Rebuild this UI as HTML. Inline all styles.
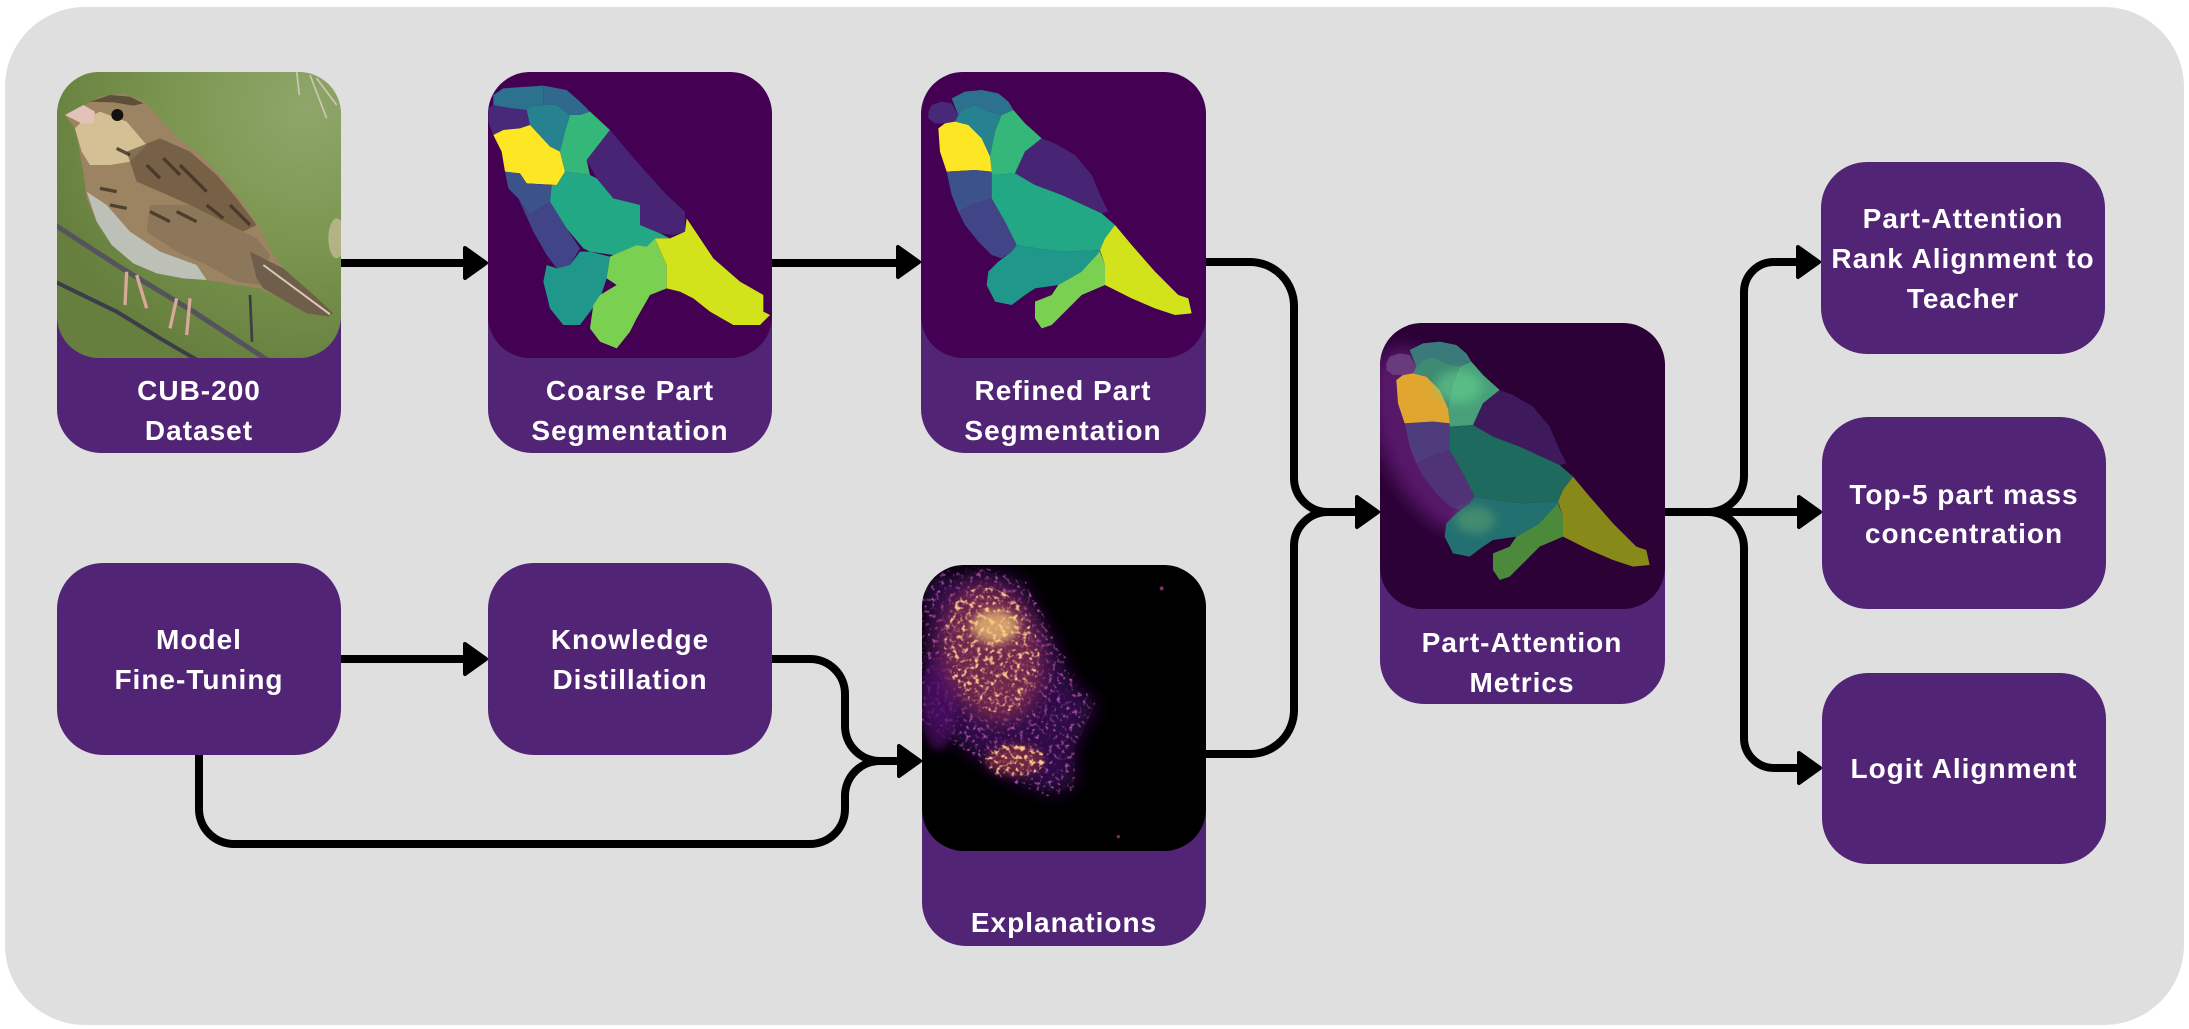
<!DOCTYPE html>
<html>
<head>
<meta charset="utf-8">
<style>
  html,body{margin:0;padding:0;background:#ffffff;}
  svg{display:block;}
  .t{font-family:"Liberation Sans",Arial,sans-serif;font-weight:bold;font-size:28px;fill:#ffffff;text-anchor:middle;letter-spacing:1px;}
</style>
</head>
<body>
<svg width="2189" height="1029" viewBox="0 0 2189 1029" xmlns="http://www.w3.org/2000/svg">
  <defs>
    <clipPath id="c1" clipPathUnits="userSpaceOnUse"><rect x="57" y="72" width="284" height="286" rx="42"/></clipPath>
    <clipPath id="c2" clipPathUnits="userSpaceOnUse"><rect x="488" y="72" width="284" height="286" rx="42"/></clipPath>
    <clipPath id="c3" clipPathUnits="userSpaceOnUse"><rect x="921" y="72" width="285" height="286" rx="42"/></clipPath>
    <clipPath id="c4" clipPathUnits="userSpaceOnUse"><rect x="922" y="565" width="284" height="286" rx="42"/></clipPath>
    <clipPath id="c5" clipPathUnits="userSpaceOnUse"><rect x="1380" y="323" width="285" height="286" rx="42"/></clipPath>
    <radialGradient id="gbg" cx="0.85" cy="0.15" r="0.9">
      <stop offset="0" stop-color="#8fa66a"/>
      <stop offset="0.5" stop-color="#7b9650"/>
      <stop offset="1" stop-color="#667f3e"/>
    </radialGradient>
    <filter id="blurL" x="-50%" y="-50%" width="200%" height="200%"><feGaussianBlur stdDeviation="28"/></filter>
    <filter id="blurM" x="-50%" y="-50%" width="200%" height="200%"><feGaussianBlur stdDeviation="14"/></filter>
    <filter id="speck" x="0" y="0" width="100%" height="100%">
      <feTurbulence type="fractalNoise" baseFrequency="0.07" numOctaves="2" seed="7" result="n"/>
      <feColorMatrix in="n" type="matrix" values="0 0 0 0 0.96  0 0 0 0 0.55  0 0 0 0 0.25  5 0 0 0 -2.6" result="c"/>
      <feComposite in="c" in2="SourceGraphic" operator="in"/>
    </filter>
    <filter id="speckP" x="0" y="0" width="100%" height="100%">
      <feTurbulence type="fractalNoise" baseFrequency="0.08" numOctaves="2" seed="3" result="n"/>
      <feColorMatrix in="n" type="matrix" values="0 0 0 0 0.42  0 0 0 0 0.08  0 0 0 0 0.42  4 0 0 0 -2.2" result="c"/>
      <feComposite in="c" in2="SourceGraphic" operator="in"/>
    </filter>
  </defs>

  <!-- outer panel -->
  <rect x="5" y="7" width="2179" height="1018" rx="80" fill="#dfdfdf"/>

  <!-- connectors -->
  <g fill="none" stroke="#000" stroke-width="8" stroke-linecap="butt" stroke-linejoin="round">
    <path d="M341,263 H468"/>
    <path d="M772,263 H901"/>
    <path d="M1206,262 H1250 A44,44 0 0 1 1294,306 V478 A34,34 0 0 0 1328,512 H1360"/>
    <path d="M1206,754 H1250 A44,44 0 0 0 1294,710 V546 A34,34 0 0 1 1328,512"/>
    <path d="M1665,512 H1802"/>
    <path d="M1665,512 H1708 A36,36 0 0 0 1744,476 V292 A30,30 0 0 1 1774,262 H1801"/>
    <path d="M1708,512 A36,36 0 0 1 1744,548 V738 A30,30 0 0 0 1774,768 H1802"/>
    <path d="M341,659 H468"/>
    <path d="M772,659 H810 A35,35 0 0 1 845,694 V726 A35,35 0 0 0 880,761 H902"/>
    <path d="M199,755 V809 A35,35 0 0 0 234,844 H810 A35,35 0 0 0 845,809 V796 A35,35 0 0 1 880,761"/>
  </g>
  <!-- arrowheads -->
  <g fill="#000" stroke="#000" stroke-width="4" stroke-linejoin="round">
    <polygon points="465,248 486,263 465,278"/>
    <polygon points="898,247 919,262 898,277"/>
    <polygon points="1357,497 1378,512 1357,527"/>
    <polygon points="1798,247 1819,262 1798,277"/>
    <polygon points="1799,497 1820,512 1799,527"/>
    <polygon points="1799,753 1820,768 1799,783"/>
    <polygon points="465,644 486,659 465,674"/>
    <polygon points="899,746 920,761 899,776"/>
  </g>

  <!-- boxes -->
  <g fill="#512476">
    <rect x="57" y="72" width="284" height="381" rx="44"/>
    <rect x="488" y="72" width="284" height="381" rx="44"/>
    <rect x="921" y="72" width="285" height="381" rx="44"/>
    <rect x="57" y="563" width="284" height="192" rx="46"/>
    <rect x="488" y="563" width="284" height="192" rx="46"/>
    <rect x="922" y="565" width="284" height="381" rx="44"/>
    <rect x="1380" y="323" width="285" height="381" rx="44"/>
    <rect x="1821" y="162" width="284" height="192" rx="46"/>
    <rect x="1822" y="417" width="284" height="192" rx="46"/>
    <rect x="1822" y="673" width="284" height="191" rx="46"/>
  </g>

  <!-- CUB photo -->
  <g clip-path="url(#c1)">
    <g transform="translate(50,65) scale(0.333333)">
      <rect x="0" y="0" width="900" height="900" fill="url(#gbg)"/>
      <path d="M740,20 L748,90 M780,30 L830,160 M800,40 L860,120" stroke="#cfc6b6" stroke-width="5" fill="none"/>
      <ellipse cx="860" cy="520" rx="25" ry="60" fill="#cbbf9c" opacity="0.7"/>
      <path d="M15,480 L200,600 L430,740 L660,890" stroke="#55545c" stroke-width="15" fill="none"/>
      <path d="M15,650 L200,740 L330,820 L450,890" stroke="#3d3d4a" stroke-width="12" fill="none"/>
      <path d="M600,690 L606,830" stroke="#3d3d4a" stroke-width="8" fill="none"/>
      <path d="M45,150 L100,122 L150,95 L220,85 L280,108 L330,160 L380,215 L440,260 L510,330 L560,390 L620,470 L665,560 L700,610 L780,680 L850,745 L835,755 L770,745 L700,705 L630,670 L560,660 L470,645 L400,640 L320,625 L250,595 L185,540 L140,470 L110,400 L100,320 L85,240 L75,190 Z" fill="#9c8463"/>
      <path d="M110,380 L140,470 L185,540 L250,595 L320,625 L400,640 L470,645 L440,600 L330,560 L240,500 L170,420 Z" fill="#bcc0b6"/>
      <path d="M75,190 L100,165 L150,140 L230,170 L290,240 L240,290 L180,300 L120,300 L95,260 Z" fill="#d3c195"/>
      <path d="M120,110 L180,90 L240,95 L280,115 L250,122 L190,112 Z" fill="#5e5038"/>
      <path d="M230,260 L330,220 L420,260 L500,330 L560,400 L620,480 L580,500 L500,460 L420,420 L330,380 L260,350 Z" fill="#6a563e" opacity="0.75"/>
      <path d="M300,420 L420,420 L520,470 L620,520 L660,570 L630,660 L560,650 L470,600 L380,560 L290,500 Z" fill="#8d775a"/>
      <path d="M600,560 L700,610 L780,680 L850,745 L835,755 L770,745 L700,705 L640,670 L620,640 Z" fill="#6e5e4a"/>
      <path d="M640,600 L840,748" stroke="#d9ccb4" stroke-width="6" fill="none"/>
      <g stroke="#3e3024" stroke-width="10" fill="none" opacity="0.8">
        <path d="M290,300 L330,340"/><path d="M340,280 L390,330"/><path d="M390,300 L440,350"/>
        <path d="M420,330 L470,380"/><path d="M300,440 L360,470"/><path d="M380,440 L440,470"/>
        <path d="M150,370 L200,380"/><path d="M180,420 L230,430"/><path d="M470,420 L520,460"/>
        <path d="M540,420 L600,480"/><path d="M200,250 L240,270"/>
      </g>
      <path d="M45,150 L100,120 L135,140 L130,175 L95,175 Z" fill="#e4c2b8"/>
      <circle cx="202" cy="150" r="18" fill="#111"/>
      <g stroke="#d8a898" stroke-width="10" fill="none">
        <path d="M230,620 L225,720 M260,630 L290,730 M380,700 L360,790 M420,700 L410,810"/>
      </g>
    </g>
  </g>

  <!-- Coarse segmentation -->
  <g clip-path="url(#c2)">
    <g transform="translate(480,65) scale(0.333333)">
      <rect x="0" y="0" width="900" height="900" fill="#440154"/>
      <polygon points="40,90 70,70 190,62 190,120 150,125 140,135 95,130 40,140" fill="#2c718e"/>
      <polygon points="190,62 260,75 300,110 330,140 300,150 270,150 230,120 190,120" fill="#31688e"/>
      <polygon points="25,130 40,120 95,130 140,135 150,180 120,190 70,195 40,210 25,170" fill="#482878"/>
      <polygon points="140,135 150,125 190,120 230,120 270,150 255,200 240,260 210,245 150,180" fill="#26828e"/>
      <polygon points="40,210 70,195 120,190 150,180 210,245 240,260 255,320 230,360 140,355 120,325 75,320 65,260" fill="#fde725"/>
      <polygon points="270,150 300,150 330,140 390,195 320,285 330,330 255,320 240,260 255,200" fill="#35b779"/>
      <polygon points="390,195 470,290 560,390 615,440 615,500 580,510 540,505 480,480 480,420 400,400 350,340 320,285" fill="#482475"/>
      <polygon points="75,320 120,325 140,355 215,360 210,410 150,450 115,400 85,370" fill="#3b528b"/>
      <polygon points="115,400 150,450 210,410 260,490 300,550 270,600 230,610 200,570 160,500" fill="#414487"/>
      <polygon points="215,360 230,360 255,320 330,330 350,340 400,400 480,420 480,480 540,505 570,520 525,520 500,545 470,540 400,570 330,560 310,550 260,490 210,410" fill="#22a884"/>
      <polygon points="200,600 230,610 270,600 300,560 330,560 390,575 380,640 360,700 330,740 300,780 250,780 210,730 190,650" fill="#1f988b"/>
      <polygon points="400,570 470,540 500,545 525,520 560,600 560,670 510,690 470,760 450,800 410,850 360,830 330,790 340,720 360,690 410,660 380,640 390,575" fill="#7ad151"/>
      <polygon points="525,520 570,520 615,500 620,460 700,580 780,650 850,690 850,740 870,750 840,780 760,780 690,740 640,700 600,680 560,670 560,600" fill="#d2e21b"/>
    </g>
  </g>

  <!-- Refined segmentation -->
  <g clip-path="url(#c3)">
    <g transform="translate(915,65) scale(0.333333)">
      <rect x="0" y="0" width="900" height="900" fill="#440154"/>
      <polygon points="40,140 50,120 80,110 110,115 130,150 120,170 90,175 60,175 40,160" fill="#482878"/>
      <polygon points="110,100 150,80 200,75 250,85 280,110 295,135 260,150 220,140 180,120 150,130 130,150" fill="#2c728e"/>
      <polygon points="130,150 150,130 180,120 220,140 260,150 240,200 225,275 200,220 160,180 120,170" fill="#26828e"/>
      <polygon points="260,150 295,135 330,175 380,220 330,260 300,325 230,330 225,275 240,200" fill="#35b779"/>
      <polygon points="70,190 90,175 120,170 160,180 200,220 225,275 230,320 180,315 95,320 75,260" fill="#fde725"/>
      <polygon points="380,220 420,235 480,270 530,330 560,400 580,440 560,445 440,390 360,360 300,325 330,260" fill="#482475"/>
      <polygon points="95,320 180,315 230,320 230,400 170,420 130,440 110,390" fill="#3b528b"/>
      <polygon points="130,440 170,420 230,400 270,470 305,540 290,560 260,580 230,570 190,530 150,480" fill="#414487"/>
      <polygon points="230,330 300,325 360,360 440,390 560,445 600,480 570,520 555,555 450,560 400,555 330,545 305,540 270,470 230,400" fill="#22a884"/>
      <polygon points="250,590 290,560 305,540 330,545 400,555 450,560 555,555 560,590 500,620 430,660 360,670 330,690 290,720 240,710 215,660 220,620" fill="#1f988b"/>
      <polygon points="360,710 410,690 430,660 500,620 555,560 570,600 570,660 500,690 440,750 410,780 380,790 360,760" fill="#7ad151"/>
      <polygon points="555,555 570,520 600,480 650,540 720,620 790,690 820,700 830,745 780,750 720,730 650,700 570,660 570,600" fill="#d2e21b"/>
    </g>
  </g>

  <!-- Explanation heatmap -->
  <g clip-path="url(#c4)">
    <g transform="translate(915,560) scale(0.333333)">
      <rect x="0" y="0" width="900" height="900" fill="#000000"/>
      <path d="M30,60 L200,30 L320,60 L420,250 L480,380 L550,430 L480,560 L480,680 L400,700 L250,640 L120,540 L30,470 Z" fill="#350a50" filter="url(#blurL)" opacity="0.9"/>
      <path d="M20,40 L200,20 L330,60 L430,250 L500,380 L540,430 L480,560 L480,690 L400,710 L250,650 L110,550 L20,480 Z" fill="#fff" filter="url(#speckP)"/>
      <ellipse cx="70" cy="430" rx="55" ry="140" fill="#4e1068" filter="url(#blurM)" opacity="0.7"/>
      <ellipse cx="230" cy="280" rx="150" ry="210" transform="rotate(-15 230 280)" fill="#8a3050" filter="url(#blurL)" opacity="0.7"/>
      <ellipse cx="230" cy="270" rx="140" ry="190" transform="rotate(-15 230 270)" fill="#fff" filter="url(#speck)"/>
      <ellipse cx="240" cy="200" rx="70" ry="50" fill="#fcd27a" filter="url(#blurM)" opacity="0.7"/>
      <ellipse cx="300" cy="600" rx="85" ry="45" fill="#8a3040" filter="url(#blurM)" opacity="0.7"/>
      <ellipse cx="300" cy="600" rx="90" ry="50" fill="#fff" filter="url(#speck)"/>
      <circle cx="740" cy="85" r="6" fill="#8a2a6a"/>
      <circle cx="610" cy="830" r="5" fill="#8a2a4a"/>
    </g>
  </g>

  <!-- Part-attention overlay -->
  <g clip-path="url(#c5)">
    <g transform="translate(1375,320) scale(0.333333)">
      <rect x="0" y="0" width="900" height="900" fill="#2b0136"/>
      <ellipse cx="170" cy="360" rx="150" ry="300" transform="rotate(-25 170 360)" fill="#6a2080" filter="url(#blurL)" opacity="0.7"/>
      <g transform="translate(-6,-10)">
        <polygon points="40,140 50,120 80,110 110,115 130,150 120,170 90,175 60,175 40,160" fill="#6a3a7e"/>
        <polygon points="110,100 150,80 200,75 250,85 280,110 295,135 260,150 220,140 180,120 150,130 130,150" fill="#3a7a7a"/>
        <polygon points="130,150 150,130 180,120 220,140 260,150 240,200 225,275 200,220 160,180 120,170" fill="#3e8a72"/>
        <polygon points="260,150 295,135 330,175 380,220 330,260 300,325 230,330 225,275 240,200" fill="#48a07a"/>
        <polygon points="70,190 90,175 120,170 160,180 200,220 225,275 230,320 180,315 95,320 75,260" fill="#e0a630"/>
        <polygon points="380,220 420,235 480,270 530,330 560,400 580,440 560,445 440,390 360,360 300,325 330,260" fill="#3e1a5c"/>
        <polygon points="95,320 180,315 230,320 230,400 170,420 130,440 110,390" fill="#4e3c7c"/>
        <polygon points="130,440 170,420 230,400 270,470 305,540 290,560 260,580 230,570 190,530 150,480" fill="#503276"/>
        <polygon points="230,330 300,325 360,360 440,390 560,445 600,480 570,520 555,555 450,560 400,555 330,545 305,540 270,470 230,400" fill="#1f6a5e"/>
        <polygon points="250,590 290,560 305,540 330,545 400,555 450,560 555,555 560,590 500,620 430,660 360,670 330,690 290,720 240,710 215,660 220,620" fill="#237070"/>
        <polygon points="360,710 410,690 430,660 500,620 555,560 570,600 570,660 500,690 440,750 410,780 380,790 360,760" fill="#4a8a3a"/>
        <polygon points="555,555 570,520 600,480 650,540 720,620 790,690 820,700 830,745 780,750 720,730 650,700 570,660 570,600" fill="#878918"/>
      </g>
      <ellipse cx="250" cy="200" rx="70" ry="50" fill="#6ad890" filter="url(#blurM)" opacity="0.5"/>
      <ellipse cx="300" cy="600" rx="60" ry="40" fill="#80c070" filter="url(#blurM)" opacity="0.35"/>
    </g>
  </g>

  <!-- labels -->
  <text class="t" x="199" y="400">CUB-200</text>
  <text class="t" x="199" y="440">Dataset</text>
  <text class="t" x="630" y="400">Coarse Part</text>
  <text class="t" x="630" y="440">Segmentation</text>
  <text class="t" x="1063" y="400">Refined Part</text>
  <text class="t" x="1063" y="440">Segmentation</text>
  <text class="t" x="199" y="649">Model</text>
  <text class="t" x="199" y="689">Fine-Tuning</text>
  <text class="t" x="630" y="649">Knowledge</text>
  <text class="t" x="630" y="689">Distillation</text>
  <text class="t" x="1064" y="932">Explanations</text>
  <text class="t" x="1522" y="652">Part-Attention</text>
  <text class="t" x="1522" y="692">Metrics</text>
  <text class="t" x="1963" y="228">Part-Attention</text>
  <text class="t" x="1963" y="268">Rank Alignment to</text>
  <text class="t" x="1963" y="308">Teacher</text>
  <text class="t" x="1964" y="504">Top-5 part mass</text>
  <text class="t" x="1964" y="543">concentration</text>
  <text class="t" x="1964" y="778">Logit Alignment</text>
</svg>
</body>
</html>
